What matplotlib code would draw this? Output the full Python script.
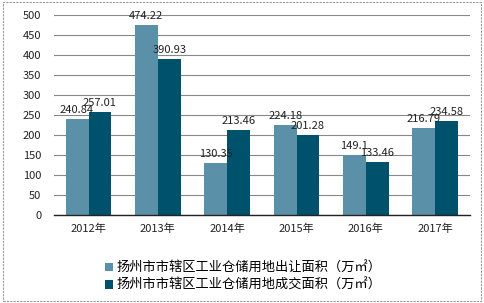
import matplotlib.pyplot as plt
import numpy as np
from matplotlib.patches import Rectangle

plt.rcParams['font.family'] = ['Noto Sans CJK SC', 'DejaVu Sans']

# --- data ---
years = ['2012年', '2013年', '2014年', '2015年', '2016年', '2017年']
transfer_area = [240.84, 474.22, 130.35, 224.18, 149.1, 216.79]
deal_area = [257.01, 390.93, 213.46, 201.28, 133.46, 234.58]
series_names = ['扬州市市辖区工业仓储用地出让面积（万㎡）',
                '扬州市市辖区工业仓储用地成交面积（万㎡）']
yticks = [0, 50, 100, 150, 200, 250, 300, 350, 400, 450, 500]

light = '#5b91a8'
dark = '#00516b'

fig = plt.figure(figsize=(4.85, 3.03), dpi=100)
ax = fig.add_axes([0.111, 0.29, 0.858, 0.66])

x = np.arange(len(years))
w = 0.33
b1 = ax.bar(x - w / 2, transfer_area, w, color=light, label=series_names[0], zorder=3)
b2 = ax.bar(x + w / 2, deal_area, w, color=dark, label=series_names[1], zorder=3)

for bars, vals in ((b1, transfer_area), (b2, deal_area)):
    for r, v in zip(bars, vals):
        ax.text(r.get_x() + r.get_width() / 2, v + 10, f'{v:g}',
                ha='center', va='bottom', fontsize=8, color='#222222', zorder=4)

ax.set_xlim(-0.5, len(years) - 0.5)
ax.set_ylim(0, 500)
ax.set_yticks(yticks)
ax.set_xticks(x)
ax.set_xticklabels(years)
ax.tick_params(axis='both', length=0, labelsize=8, colors='#222222')
ax.tick_params(axis='y', pad=9)
ax.tick_params(axis='x', pad=6)
ax.grid(axis='y', color='#888888', linewidth=0.8, zorder=0)
for s in ('top', 'right', 'left'):
    ax.spines[s].set_visible(False)
ax.spines['bottom'].set_color('#222222')
ax.spines['bottom'].set_linewidth(1.0)
ax.spines['bottom'].set_zorder(5)

fig.legend(handles=[b1, b2], labels=series_names, loc='upper left',
           bbox_to_anchor=(0.205, 0.155), frameon=False, fontsize=9.5,
           handlelength=0.6, handleheight=0.6, handletextpad=0.3,
           labelspacing=0.35, borderaxespad=0)

# dashed frame around the figure
fig.patches.append(Rectangle((0.006, 0.008), 0.986, 0.984, transform=fig.transFigure,
                             fill=False, edgecolor='#999999', linewidth=0.8,
                             linestyle=(0, (2, 1))))

fig.savefig('out.png', dpi=100)
